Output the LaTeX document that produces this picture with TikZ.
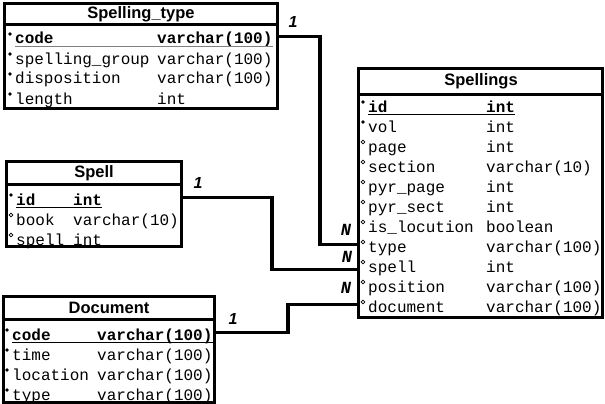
\documentclass[tikz,border=0pt]{standalone}
\usepackage{fontspec}
\setmainfont{Liberation Sans}
\newfontfamily\colfont{Liberation Mono}
\usetikzlibrary{calc,positioning}
\tikzstyle{tablebox} = [draw, line width=3pt, inner sep=0pt]
\tikzstyle{tabletitle} = [inner sep=0pt, font=\bfseries\fontsize{16.5}{18}\selectfont]
\tikzstyle{field} = [anchor=base west, inner sep=0pt, text height=15pt, text depth=0pt,
    font=\colfont\fontsize{16}{20}\selectfont]
\tikzstyle{keyfield} = [field, font=\colfont\bfseries\fontsize{16}{20}\selectfont]
\tikzstyle{must} = [fill=black]
\tikzstyle{may} = [draw, line width=0.7pt, fill=white]
\tikzstyle{link} = [line width=3.5pt]
\tikzstyle{one} = [inner sep=0pt, font=\bfseries\itshape\fontsize{16}{16}\selectfont]
\tikzstyle{many} = [inner sep=0pt, font=\colfont\bfseries\itshape\fontsize{17}{17}\selectfont]

\begin{document}
\begin{tikzpicture}[x=1pt,y=-1pt]
        \useasboundingbox [fill=white] (0,0) rectangle (605,404);
        % tables
        \node[tablebox, minimum width=273pt, minimum height=105pt] (SpellingType) at (141,56) {};
        \node[tablebox, minimum width=244pt, minimum height=249pt] (Spellings) at (480.5,193) {};
        \node[tablebox, minimum width=175pt, minimum height=85pt] (Spell) at (94,204) {};
        \node[tablebox, minimum width=211pt, minimum height=106pt] (Document) at (109,349.5) {};
        \draw [line width=3pt] (3,25) -- (279,25); %title line
        \draw [line width=3pt] (357,94) -- (604,94);
        \draw [line width=3pt] (5,184) -- (183,184);
        \draw [line width=3pt] (2,319) -- (216,319);
        \node[tabletitle] (stTitle) at (141,14) {Spelling\_type};
        \node[tabletitle] (spsTitle) at (481,81) {Spellings};
        \node[tabletitle] (spTitle) at (94,173) {Spell};
        \node[tabletitle] (docTitle) at (109,308) {Document};

        % Spelling_type fields
        \node[keyfield] (st-1) at (15,44) {code};
        \node[keyfield] (st-1t) at (157,44) {varchar(100)};
        \path[must] (10,34) circle (1.8);
        \draw [line width=0.8pt, gray] ([yshift=-2pt]st-1.south west) -- ([yshift=-2pt]st-1t.south east);
        \foreach \n/\t/\m [count=\i from 2] in {spelling\_group/varchar(100)/must,
            disposition/varchar(100)/must, length/int/must}{
            \node[field] (st-\i) at (15,{44+20*(\i-1)}) {\n};
            \node[field] (st-\i t) at (157,{44+20*(\i-1)}) {\t};
            \path[\m] (10,{34+20*(\i-1)}) circle (1.8);
        }

        % Spellings fields
        \node[keyfield] (sps-1) at (368,112) {id};
        \node[keyfield] (sps-1t) at (486,112) {int};
        \path[must] (363,102) circle (1.8);
        \draw [line width=0.8pt] ([yshift=-2pt]sps-1.south west) -- ([yshift=-2pt]sps-1t.south east);
        \foreach \n/\t/\m [count=\i from 2] in {vol/int/must, page/int/may,
            section/varchar(10)/may, pyr\_page/int/may, pyr\_sect/int/may,
            is\_locution/boolean/may, type/varchar(100)/may, spell/int/may,
            position/varchar(100)/may, document/varchar(100)/may}{
            \node[field] (sps-\i) at (368,{112+20*(\i-1)}) {\n};
            \node[field] (sps-\i t) at (486,{112+20*(\i-1)}) {\t};
            \path[\m] (363,{102+20*(\i-1)}) circle (1.8);
        }

        % Spell fields
        \node[keyfield] (sp-1) at (16,205) {id};
        \node[keyfield] (sp-1t) at (73,205) {int};
        \path[must] (11,195) circle (1.8);
        \draw [line width=0.8pt] ([yshift=-2pt]sp-1.south west) -- ([yshift=-2pt]sp-1t.south east);
        \foreach \n/\t/\m [count=\i from 2] in {book/varchar(10)/may, spell/int/may}{
            \node[field] (sp-\i) at (16,{205+20*(\i-1)}) {\n};
            \node[field] (sp-\i t) at (73,{205+20*(\i-1)}) {\t};
            \path[\m] (11,{195+20*(\i-1)}) circle (1.8);
        }

        % Document fields
        \node[keyfield] (doc-1) at (12,340) {code};
        \node[keyfield] (doc-1t) at (97,340) {varchar(100)};
        \path[must] (7,330) circle (1.8);
        \draw [line width=0.8pt] ([yshift=-2pt]doc-1.south west) -- ([yshift=-2pt]doc-1t.south east);
        \foreach \n/\t/\m [count=\i from 2] in {time/varchar(100)/must,
            location/varchar(100)/must, type/varchar(100)/must}{
            \node[field] (doc-\i) at (12,{340+20*(\i-1)}) {\n};
            \node[field] (doc-\i t) at (97,{340+20*(\i-1)}) {\t};
            \path[\m] (7,{330+20*(\i-1)}) circle (1.8);
        }

        % relations
        \draw [link] (SpellingType.east |- st-1.west) -- ++(41,0) |- (Spellings.west |- sps-8.west);
        \draw [link] (Spell.east |- sp-1.west) -- ++(89,0) |- ($(Spellings.west |- sps-9.west)+(0,5)$);
        \draw [link] (Document.east |- doc-1.west) -- ++(72,0) |- (Spellings.west |- sps-11.west);
        \node[one] (stOne) at (293,22) {1};
        \node[one] (spOne) at (198,183) {1};
        \node[one] (docOne) at (233,319) {1};
        \node[many] (typeMany) at (346,230) {N};
        \node[many] (spellMany) at (347,257) {N};
        \node[many] (docMany) at (346,288) {N};
    \end{tikzpicture}
\end{document}
